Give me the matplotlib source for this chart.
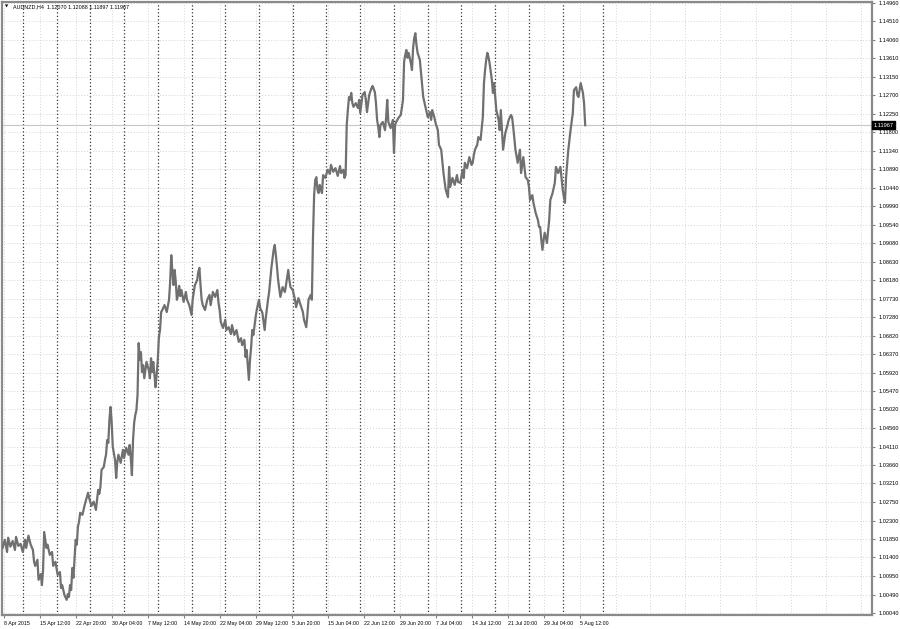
import matplotlib.pyplot as plt
from matplotlib.transforms import blended_transform_factory

symbol = "AUDNZD,H4"
ohlc = ["1.12070", "1.12088", "1.11897", "1.11967"]
last_close = 1.11967

# bar number (H4 bars from 8 Apr 2015) and close price
bars = [0, 2, 4, 5, 7, 9, 11, 12, 14, 16, 18, 20, 21, 23, 25, 27, 28, 29, 31, 32,
        34, 35, 36, 37, 38, 39, 40, 42, 44, 45, 47, 49, 51, 52, 53, 55, 57, 58, 59, 60,
        61, 62, 63, 65, 66, 67, 68, 69, 71, 73, 75, 76, 77, 79, 81, 83, 84, 85, 86, 87,
        88, 90, 91, 92, 93, 94, 95, 96, 97, 98, 100, 101, 102, 103, 105, 107, 108, 110, 112, 113,
        114, 115, 116, 117, 118, 119, 120,
        121, 122, 123, 124, 125, 126, 128, 130, 131, 132, 133, 134, 136, 137, 138, 139, 140, 141,
        142, 144, 146, 148, 149, 150, 151, 152, 153, 154, 155, 156, 157, 158, 159, 161, 163, 164,
        166, 168, 169, 170, 171, 173, 174, 175, 176, 177, 178, 180, 182, 184, 185, 187, 189, 191,
        192, 193, 194, 196, 198, 199, 201, 203, 204, 206, 208, 210, 212, 213, 215, 216, 217, 218,
        219, 220, 221, 222, 223, 225, 226, 228, 229, 231, 233, 234, 236, 237, 238, 239, 241, 242,
        243, 244, 245, 247, 249, 251, 252, 254, 255, 256, 258, 260, 261, 263, 265, 267, 268, 270,
        271, 272, 274, 275,
        276, 277, 278, 279, 280, 281, 282, 283, 284, 285, 287, 289, 291, 292, 294, 296, 298, 300,
        301, 303, 304, 305, 306, 307, 308, 309, 310, 311, 312, 314, 316, 317, 318, 320, 322, 323,
        324, 326, 328, 329, 331, 332, 333, 334, 335, 336, 338, 340, 341, 342, 343, 345, 347, 348,
        349, 350, 352, 354, 355, 356, 357, 358, 359, 360, 361, 363, 364, 365, 366, 367, 368, 369,
        371, 372, 374, 376, 378, 380, 381, 382, 384, 385, 387, 388, 390, 392, 394, 396, 397, 398,
        400, 402, 404, 405, 407, 409, 410, 411, 413, 415, 417, 418, 419, 420, 422, 423, 425, 427,
        428, 429, 430, 431, 432, 433, 435, 436, 437, 439, 441, 442, 443, 445, 447, 449, 450, 452,
        453, 454, 456, 458, 460, 461, 463, 465, 467, 468, 469, 471, 472, 474, 476, 477, 478, 479,
        480, 481, 482, 484, 486, 487, 489, 491, 492, 494, 496, 498, 500, 501, 503, 505, 507, 508,
        510, 511, 512, 514, 516, 517, 518]
closes = [1.0163, 1.0183, 1.0153, 1.0188, 1.0166, 1.0180, 1.0158, 1.0190, 1.0168, 1.0173,
          1.0153, 1.0183, 1.0163, 1.0193, 1.0171, 1.0158, 1.0129, 1.0119, 1.0134, 1.0085,
          1.0099, 1.0072, 1.0109, 1.0202, 1.0183, 1.0163, 1.0171, 1.0146, 1.0153, 1.0119,
          1.0129, 1.0097, 1.0104, 1.0065, 1.0072, 1.0048, 1.0036, 1.0050, 1.0043, 1.0072,
          1.0060, 1.0114, 1.0090, 1.0183, 1.0171, 1.0215, 1.0227, 1.0249, 1.0244, 1.0268,
          1.0288, 1.0298, 1.0285, 1.0266, 1.0276, 1.0256, 1.0280, 1.0305, 1.0295, 1.0312,
          1.0354, 1.0361, 1.0378, 1.0391, 1.0427, 1.0420, 1.0476, 1.0508, 1.0471, 1.0410,
          1.0378, 1.0334, 1.0373, 1.0391, 1.0371, 1.0403, 1.0383, 1.0408, 1.0391, 1.0415,
          1.0383, 1.0341, 1.0427, 1.0469, 1.0488, 1.0500, 1.0537,
          1.0664, 1.0623, 1.0642, 1.0593, 1.0610, 1.0578, 1.0618, 1.0598, 1.0578, 1.0627,
          1.0593, 1.0618, 1.0556, 1.0586, 1.0623, 1.0679, 1.0696, 1.0740, 1.0745, 1.0757,
          1.0740, 1.0770, 1.0814, 1.0879, 1.0838, 1.0806, 1.0843, 1.0814, 1.0770, 1.0782,
          1.0804, 1.0779, 1.0794, 1.0765, 1.0789, 1.0770, 1.0757, 1.0733, 1.0770, 1.0789,
          1.0806, 1.0818, 1.0838, 1.0848, 1.0806, 1.0770, 1.0757, 1.0745, 1.0770, 1.0782,
          1.0757, 1.0789, 1.0777, 1.0794, 1.0762, 1.0745, 1.0716, 1.0701, 1.0721, 1.0696,
          1.0703, 1.0686, 1.0708, 1.0684, 1.0696, 1.0667, 1.0676, 1.0659, 1.0672, 1.0630,
          1.0647, 1.0610, 1.0574, 1.0623, 1.0654, 1.0696, 1.0684, 1.0728, 1.0745, 1.0770,
          1.0750, 1.0738, 1.0696, 1.0725, 1.0770, 1.0789, 1.0818, 1.0848, 1.0892, 1.0904,
          1.0879, 1.0850, 1.0818, 1.0777, 1.0801, 1.0789, 1.0806, 1.0843, 1.0818, 1.0801,
          1.0794, 1.0770, 1.0752, 1.0774, 1.0757, 1.0740, 1.0721, 1.0703, 1.0733, 1.0770,
          1.0782, 1.0770,
          1.0924, 1.1026, 1.1063, 1.1070, 1.1039, 1.1031, 1.1051, 1.1039, 1.1031, 1.1075,
          1.1068, 1.1088, 1.1078, 1.1100, 1.1083, 1.1092, 1.1073, 1.1097, 1.1080, 1.1088,
          1.1068, 1.1075, 1.1198, 1.1234, 1.1266, 1.1259, 1.1276, 1.1251, 1.1242, 1.1251,
          1.1239, 1.1259, 1.1227, 1.1271, 1.1278, 1.1259, 1.1229, 1.1271, 1.1288, 1.1293,
          1.1278, 1.1251, 1.1210, 1.1193, 1.1168, 1.1198, 1.1205, 1.1185, 1.1215, 1.1259,
          1.1205, 1.1190, 1.1210, 1.1129, 1.1198, 1.1205, 1.1215, 1.1222, 1.1239, 1.1259,
          1.1352, 1.1369, 1.1381, 1.1362, 1.1374, 1.1349, 1.1332, 1.1386, 1.1410, 1.1422,
          1.1393, 1.1374, 1.1357, 1.1327, 1.1266, 1.1242, 1.1217, 1.1229, 1.1210, 1.1234,
          1.1215, 1.1202, 1.1185, 1.1149, 1.1137, 1.1080, 1.1039, 1.1021, 1.1095, 1.1046,
          1.1068, 1.1051, 1.1075, 1.1058, 1.1056, 1.1088, 1.1068, 1.1105, 1.1092, 1.1119,
          1.1100, 1.1105, 1.1124, 1.1137, 1.1149, 1.1168, 1.1161, 1.1217, 1.1300, 1.1332,
          1.1357, 1.1374, 1.1364, 1.1349, 1.1308, 1.1276, 1.1300, 1.1234, 1.1210, 1.1185,
          1.1234, 1.1137, 1.1178, 1.1198, 1.1210, 1.1222, 1.1217, 1.1193, 1.1137, 1.1105,
          1.1137, 1.1080, 1.1119, 1.1070, 1.1063, 1.1046, 1.1014, 1.1026, 1.1007, 1.0982,
          1.0965, 1.0948, 1.0948, 1.0916, 1.0892, 1.0916, 1.0934, 1.0909, 1.0965, 1.1014,
          1.1031, 1.1056, 1.1095, 1.1080, 1.1095, 1.1039, 1.1007, 1.1070, 1.1137, 1.1185,
          1.1227, 1.1283, 1.1290, 1.1271, 1.1266, 1.1300, 1.1276, 1.1251, 1.1197]

price_ticks = [1.14960, 1.14510, 1.14060, 1.13610, 1.13150, 1.12700, 1.12250, 1.11800,
               1.11340, 1.10890, 1.10440, 1.09990, 1.09540, 1.09080, 1.08630, 1.08180,
               1.07730, 1.07280, 1.06820, 1.06370, 1.05920, 1.05470, 1.05020, 1.04560,
               1.04110, 1.03660, 1.03210, 1.02750, 1.02300, 1.01850, 1.01400, 1.00950,
               1.00490, 1.00040]

time_ticks = [1, 33, 65, 97, 129, 161, 193, 225, 257, 289, 321, 353, 385, 417, 449, 481, 513]
time_labels = ["8 Apr 2015", "15 Apr 12:00", "22 Apr 20:00", "30 Apr 04:00", "7 May 12:00",
               "14 May 20:00", "22 May 04:00", "29 May 12:00", "5 Jun 20:00", "15 Jun 04:00",
               "22 Jun 12:00", "29 Jun 20:00", "7 Jul 04:00", "14 Jul 12:00", "21 Jul 20:00",
               "29 Jul 04:00", "5 Aug 12:00"]
grid_x = time_ticks + [545, 576, 607, 638, 670, 701, 732, 763]
week_starts = [18, 48, 78, 108, 138, 168, 198, 228, 258, 288, 318, 348, 378, 408, 438, 468,
               498, 534]

fig = plt.figure(figsize=(9, 6.29), dpi=100)
ax = fig.add_axes([2 / 900, 14 / 629, 870 / 900, 613 / 629])
ax.set_xlim(-0.5, 773)
ax.set_ylim(0.99989, 1.14984)

grid_style = dict(color='#d4d4d4', linestyle=(0, (1, 2)), linewidth=0.7, zorder=0)
for p in price_ticks:
    ax.axhline(p, **grid_style)
for b in grid_x:
    ax.axvline(b, **grid_style)
for b in week_starts:
    ax.axvline(b, color='#333333', linestyle=(0, (1, 1.8)), linewidth=0.9, zorder=1)

ax.axhline(last_close, color='#c8c8c8', linewidth=0.8, zorder=1)
ax.plot(bars, closes, color='#707070', linewidth=1.6, zorder=3)

ax.yaxis.tick_right()
ax.set_yticks(price_ticks, ["%.5f" % p for p in price_ticks])
ax.set_xticks(time_ticks, time_labels)
for lab in ax.get_xticklabels():
    lab.set_horizontalalignment('left')
ax.tick_params(axis='y', length=2, pad=3, labelsize=4.1, color='#808080')
ax.tick_params(axis='x', length=2, pad=2, labelsize=3.8, color='#808080')
for lab in ax.get_xticklabels() + ax.get_yticklabels():
    lab.set_fontfamily('Liberation Sans')

for side in ['left', 'right', 'top', 'bottom']:
    ax.spines[side].set_color('#8a8a8a')
    ax.spines[side].set_linewidth(1.6)

tr = blended_transform_factory(ax.transAxes, ax.transData)
ax.text(1.0015, last_close, "%.5f" % last_close, transform=tr, fontsize=4.1,
        family='Liberation Sans', color='white', va='center', ha='left',
        bbox=dict(boxstyle='square,pad=0.25', fc='black', ec='black'))

ax.text(0.004, 0.9925, "\u25bc", transform=ax.transAxes, fontsize=3, va='center', ha='left')
ax.text(0.013, 0.9925, symbol + "  " + " ".join(ohlc), transform=ax.transAxes,
        fontsize=3.9, family='Liberation Sans', va='center', ha='left')

fig.savefig("out.png", dpi=100)
